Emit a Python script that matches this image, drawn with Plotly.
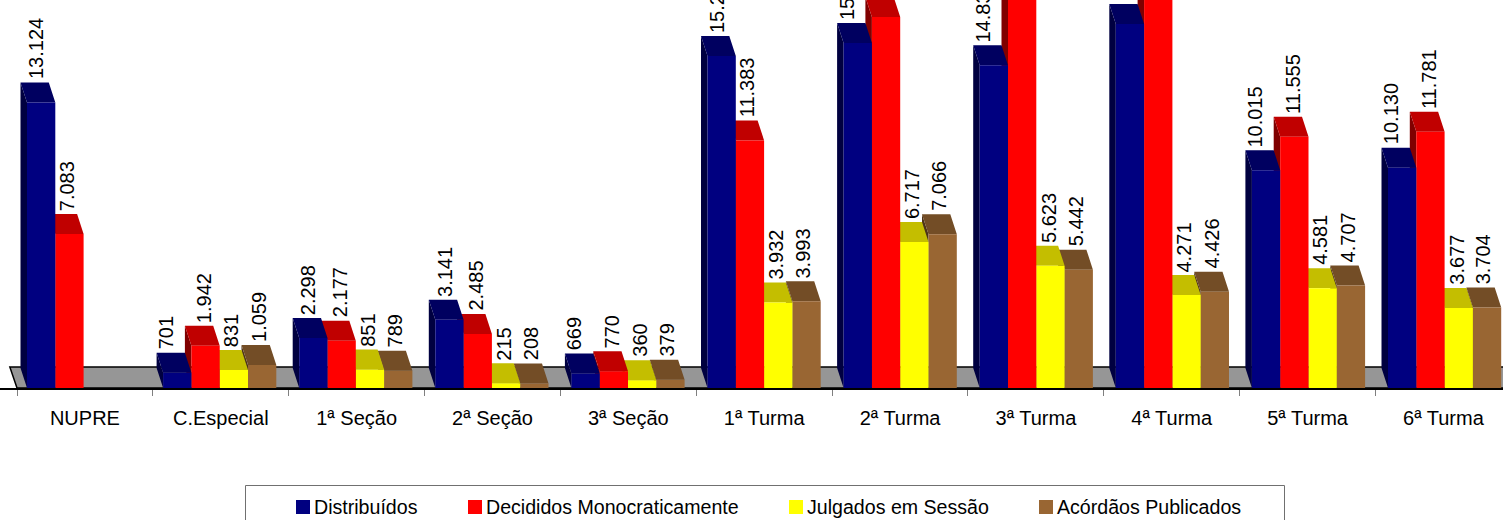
import plotly.graph_objects as go

categories = ["NUPRE", "C.Especial", "1ª Seção", "2ª Seção", "3ª Seção", "1ª Turma",
              "2ª Turma", "3ª Turma", "4ª Turma", "5ª Turma", "6ª Turma"]
distribuidos = [13124, 701, 2298, 3141, 669, 15264, 15862, 14835, 16736, 10015, 10130]
decididos = [7083, 1942, 2177, 2485, 770, 11383, 17057, 18600, 18400, 11555, 11781]
julgados = [None, 831, 851, 215, 360, 3932, 6717, 5623, 4271, 4581, 3677]
acordaos = [None, 1059, 789, 208, 379, 3993, 7066, 5442, 4426, 4707, 3704]

series_names = ["Distribuídos", "Decididos Monocraticamente", "Julgados em Sessão", "Acórdãos Publicados"]
series_values = [distribuidos, decididos, julgados, acordaos]
front_colors = ["#000080", "#FF0000", "#FFFF00", "#996633"]
top_colors = ["#000060", "#C00000", "#C4BE00", "#734D26"]
side_colors = ["#000040", "#800000", "#808000", "#4D3319"]

W, H = 1503, 520
CAT_PX = 135.85
GROUP_STEP = 136.1 / CAT_PX
X0_PX = 17.0
BASE_PX = 388.0
PX_PER_UNIT = 0.02175
BAR = 28.3 / CAT_PX
LEFT_GAP = 10.0 / CAT_PX
DX = 6.5 / CAT_PX
DY = 20.0 / PX_PER_UNIT
FONT = "Liberation Sans, Arial, sans-serif"
FONT_SIZE = 20
LEGEND_FONT_SIZE = 19.6

fig = go.Figure()
n = len(categories)
x_min, x_max = -X0_PX / CAT_PX, (W - X0_PX) / CAT_PX
y_max = BASE_PX / PX_PER_UNIT

# floor of the 3D chart
fig.add_trace(go.Scatter(
    x=[0, -DX * 1.1, x_max + 1, x_max + 1, 0], y=[0, DY * 1.05, DY * 1.05, 0, 0],
    mode="lines", fill="toself", fillcolor="#969696",
    line=dict(color="#000000", width=1.5), showlegend=False, hoverinfo="skip"))


def bar_left(i, s):
    return i * GROUP_STEP + LEFT_GAP + s * BAR


def polys(vals, s, face):
    xs, ys = [], []
    for i, v in enumerate(vals):
        if v is None:
            continue
        l = bar_left(i, s)
        r = l + BAR
        if face == "front":
            px, py = [l, r, r, l, l], [0, 0, v, v, 0]
        elif face == "top":
            px, py = [l, r, r - DX, l - DX, l], [v, v, v + DY, v + DY, v]
        else:
            px, py = [l, l - DX, l - DX, l, l], [0, DY, v + DY, v, 0]
        xs += px + [None]
        ys += py + [None]
    return xs, ys


# right-to-left so that nearer left bars cover the sides of their neighbours
for s in range(3, -1, -1):
    for face, color in (("side", side_colors[s]), ("top", top_colors[s]), ("front", front_colors[s])):
        xs, ys = polys(series_values[s], s, face)
        fig.add_trace(go.Scatter(x=xs, y=ys, mode="none", fill="toself", fillcolor=color,
                                 name=series_names[s], showlegend=False, hoverinfo="skip"))

annotations = []
label_dx = [9, 12, 12, 11]
for s, vals in enumerate(series_values):
    for i, v in enumerate(vals):
        if v is None:
            continue
        dx_px = label_dx[s]
        if s == 0 and decididos[i] > v:
            dx_px = 3
        annotations.append(dict(
            x=bar_left(i, s), y=v + DY, xref="x", yref="y",
            text=f"{v:,}".replace(",", "."), textangle=-90, showarrow=False,
            xanchor="center", yanchor="bottom", xshift=dx_px, yshift=1,
            font=dict(family=FONT, size=FONT_SIZE, color="#000000")))

# legend box
shapes = [dict(type="rect", xref="paper", yref="paper",
               x0=245.5 / W, x1=1284.5 / W, y0=-0.05, y1=1 - 485.5 / H,
               line=dict(color="#707070", width=1), fillcolor="#FFFFFF")]
swatch_px = [296, 468, 789, 1039]
for s, name in enumerate(series_names):
    shapes.append(dict(type="rect", xref="paper", yref="paper",
                       x0=swatch_px[s] / W, x1=(swatch_px[s] + 14) / W,
                       y0=1 - 514 / H, y1=1 - 500 / H,
                       line=dict(width=0), fillcolor=front_colors[s]))
    annotations.append(dict(x=(swatch_px[s] + 16) / W, y=1 - 507 / H, xref="paper", yref="paper",
                            text=name, showarrow=False, xanchor="left", yanchor="middle",
                            font=dict(family=FONT, size=LEGEND_FONT_SIZE, color="#000000")))

fig.update_layout(
    width=W, height=H, margin=dict(l=0, r=0, t=0, b=0), autosize=False,
    paper_bgcolor="#FFFFFF", plot_bgcolor="#FFFFFF", showlegend=False,
    annotations=annotations, shapes=shapes,
    xaxis=dict(range=[x_min, x_max], domain=[0, 1], automargin=False,
               tickmode="array", tickvals=[i + 0.5 for i in range(n)], ticktext=categories,
               ticks="", showgrid=False, zeroline=False, showline=True,
               linecolor="#000000", linewidth=2, ticklabelstandoff=11,
               tickfont=dict(family=FONT, size=FONT_SIZE, color="#000000"),
               minor=dict(tickmode="array", tickvals=list(range(n + 1)), ticks="outside",
                          ticklen=6, tickwidth=1, tickcolor="#808080", showgrid=False)),
    yaxis=dict(range=[0, y_max], domain=[1 - BASE_PX / H, 1], visible=False, automargin=False),
)

fig.write_html("out.html", config=dict(displayModeBar=False),
               post_script="document.body.style.margin='0';document.body.style.overflow='hidden';")
